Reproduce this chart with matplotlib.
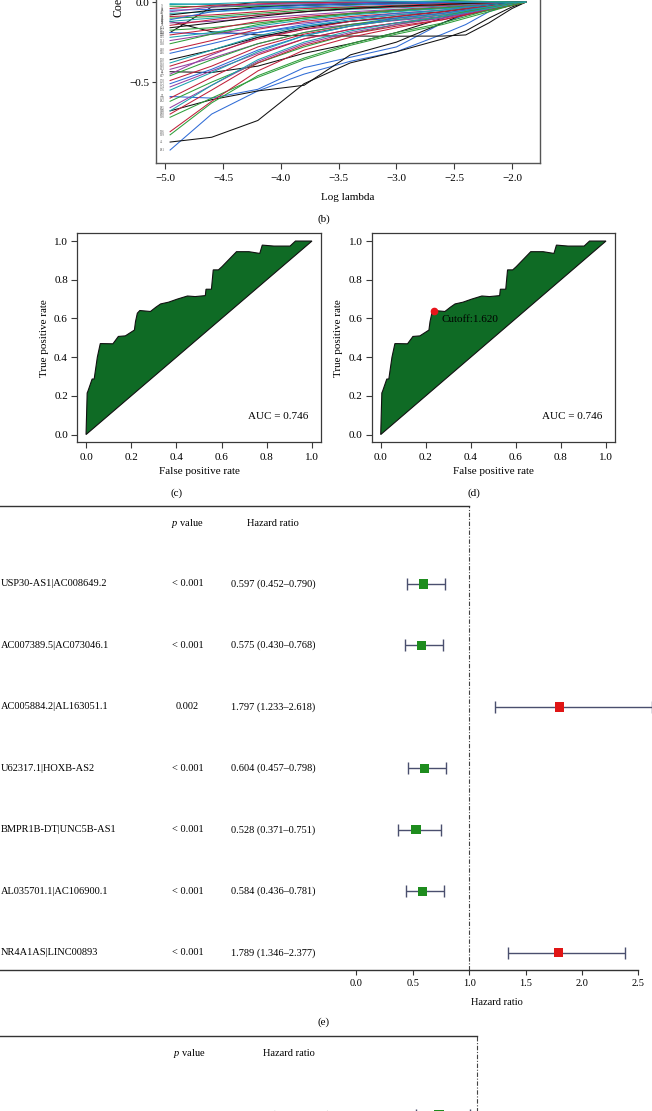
import numpy as np
import matplotlib
matplotlib.use('Agg')
import matplotlib.pyplot as plt

plt.rcParams['font.family'] = ['Liberation Serif', 'DejaVu Serif']
plt.rcParams['mathtext.fontset'] = 'custom'
plt.rcParams['mathtext.rm'] = 'Liberation Serif'
plt.rcParams['mathtext.it'] = 'Liberation Serif:italic'

# ---------------- data ----------------
log_lambda = [-4.96, -4.6, -4.2, -3.8, -3.4, -3.0, -2.6, -2.4, -2.2, -2.0, -1.88]
path_colors = ['b', 'k', 'b', 'k', 'k', 'k', 'k', 'm',
               'c', 'g', 'r', 'b', 'm', 'c', 'k', 'r', 'g', 'b', 'c', 'm', 'r', 'k', 'g',
               'b', 'r', 'c', 'm', 'g', 'r', 'b', 'k', 'c', 'r', 'm', 'g', 'r', 'b', 'm',
               'c', 'r', 'g', 'm', 'r', 'g', 'c', 'r', 'g', 'b', 'g', 'c']
path_coefs = [
    [-0.925, -0.70, -0.555, -0.45, -0.37, -0.31, -0.20, -0.14, -0.06, -0.01, 0.0],
    [-0.875, -0.845, -0.74, -0.51, -0.38, -0.31, -0.23, -0.18, -0.10, -0.03, 0.0],
    [-0.59, -0.60, -0.545, -0.41, -0.345, -0.28, -0.13, -0.08, -0.04, -0.01, 0.0],
    [-0.68, -0.61, -0.555, -0.52, -0.33, -0.25, -0.13, -0.07, -0.03, -0.005, 0.0],
    [-0.12, -0.185, -0.205, -0.21, -0.212, -0.213, -0.212, -0.205, -0.13, -0.04, 0.0],
    [-0.435, -0.44, -0.40, -0.32, -0.26, -0.19, -0.10, -0.06, -0.02, 0.0, 0.0],
    [-0.19, -0.03, 0.0, 0.0, 0.0, 0.0, 0.0, 0.0, 0.0, 0.0, 0.0],
    [-0.45, -0.33, -0.22, -0.17, -0.14, -0.115, -0.09, -0.07, -0.04, -0.01, 0.0],
    [-0.01, -0.015, -0.02, -0.015, -0.01, -0.005, -0.002, 0.0, 0.0, 0.0, 0.0],
    [-0.025, -0.03, -0.025, -0.02, -0.015, -0.01, -0.005, -0.002, 0.0, 0.0, 0.0],
    [-0.04, -0.02, -0.01, -0.005, 0.0, 0.0, 0.0, 0.0, 0.0, 0.0, 0.0],
    [-0.05, -0.045, -0.04, -0.03, -0.02, -0.012, -0.006, -0.003, 0.0, 0.0, 0.0],
    [-0.06, -0.03, -0.015, -0.01, -0.005, 0.0, 0.0, 0.0, 0.0, 0.0, 0.0],
    [-0.07, -0.06, -0.045, -0.035, -0.03, -0.025, -0.02, -0.015, -0.008, -0.002, 0.0],
    [-0.08, -0.05, -0.03, -0.02, -0.01, -0.005, 0.0, 0.0, 0.0, 0.0, 0.0],
    [-0.09, -0.08, -0.06, -0.04, -0.03, -0.02, -0.01, -0.005, -0.002, 0.0, 0.0],
    [-0.10, -0.09, -0.07, -0.05, -0.035, -0.025, -0.02, -0.012, -0.005, 0.0, 0.0],
    [-0.11, -0.06, -0.035, -0.02, -0.01, -0.005, 0.0, 0.0, 0.0, 0.0, 0.0],
    [-0.12, -0.10, -0.08, -0.06, -0.045, -0.035, -0.025, -0.018, -0.01, -0.003, 0.0],
    [-0.13, -0.12, -0.10, -0.08, -0.06, -0.045, -0.03, -0.02, -0.01, -0.003, 0.0],
    [-0.145, -0.11, -0.08, -0.06, -0.04, -0.03, -0.02, -0.01, -0.005, 0.0, 0.0],
    [-0.16, -0.13, -0.09, -0.06, -0.04, -0.025, -0.015, -0.008, -0.003, 0.0, 0.0],
    [-0.175, -0.16, -0.13, -0.10, -0.075, -0.055, -0.04, -0.03, -0.02, -0.008, 0.0],
    [-0.19, -0.20, -0.19, -0.15, -0.12, -0.10, -0.07, -0.05, -0.03, -0.01, 0.0],
    [-0.205, -0.17, -0.12, -0.09, -0.07, -0.05, -0.035, -0.025, -0.015, -0.005, 0.0],
    [-0.22, -0.19, -0.15, -0.11, -0.08, -0.06, -0.04, -0.03, -0.02, -0.008, 0.0],
    [-0.24, -0.20, -0.16, -0.13, -0.10, -0.08, -0.06, -0.045, -0.03, -0.01, 0.0],
    [-0.26, -0.20, -0.14, -0.10, -0.07, -0.05, -0.035, -0.025, -0.015, -0.005, 0.0],
    [-0.30, -0.24, -0.17, -0.12, -0.09, -0.07, -0.05, -0.035, -0.02, -0.008, 0.0],
    [-0.32, -0.26, -0.19, -0.14, -0.10, -0.07, -0.05, -0.03, -0.015, -0.005, 0.0],
    [-0.36, -0.30, -0.22, -0.16, -0.12, -0.09, -0.06, -0.04, -0.02, -0.005, 0.0],
    [-0.38, -0.30, -0.21, -0.15, -0.11, -0.08, -0.05, -0.035, -0.02, -0.005, 0.0],
    [-0.40, -0.32, -0.23, -0.17, -0.12, -0.09, -0.06, -0.04, -0.025, -0.01, 0.0],
    [-0.42, -0.35, -0.26, -0.19, -0.14, -0.11, -0.08, -0.06, -0.04, -0.015, 0.0],
    [-0.46, -0.36, -0.26, -0.19, -0.14, -0.10, -0.07, -0.05, -0.03, -0.01, 0.0],
    [-0.49, -0.40, -0.28, -0.20, -0.15, -0.11, -0.08, -0.06, -0.035, -0.01, 0.0],
    [-0.51, -0.42, -0.30, -0.21, -0.15, -0.10, -0.07, -0.05, -0.03, -0.01, 0.0],
    [-0.53, -0.43, -0.32, -0.23, -0.17, -0.13, -0.10, -0.075, -0.045, -0.015, 0.0],
    [-0.55, -0.44, -0.31, -0.21, -0.15, -0.11, -0.08, -0.055, -0.03, -0.01, 0.0],
    [-0.60, -0.47, -0.33, -0.23, -0.17, -0.13, -0.09, -0.065, -0.04, -0.015, 0.0],
    [-0.62, -0.50, -0.38, -0.28, -0.20, -0.14, -0.09, -0.06, -0.035, -0.01, 0.0],
    [-0.66, -0.52, -0.37, -0.26, -0.19, -0.14, -0.10, -0.07, -0.04, -0.015, 0.0],
    [-0.70, -0.55, -0.38, -0.27, -0.20, -0.15, -0.11, -0.08, -0.05, -0.02, 0.0],
    [-0.72, -0.60, -0.47, -0.36, -0.27, -0.20, -0.14, -0.10, -0.06, -0.02, 0.0],
    [-0.68, -0.52, -0.36, -0.25, -0.18, -0.13, -0.09, -0.065, -0.04, -0.015, 0.0],
    [-0.81, -0.62, -0.43, -0.30, -0.22, -0.16, -0.11, -0.08, -0.05, -0.02, 0.0],
    [-0.83, -0.63, -0.46, -0.35, -0.26, -0.19, -0.13, -0.09, -0.05, -0.02, 0.0],
    [0.10, 0.06, 0.04, 0.02, 0.01, 0.004, 0.0, 0.0, 0.0, 0.0, 0.0],
    [0.20, 0.12, 0.08, 0.05, 0.03, 0.02, 0.012, 0.008, 0.004, 0.001, 0.0],
    [-0.015, -0.01, 0.0, 0.005, 0.008, 0.006, 0.004, 0.002, 0.001, 0.0, 0.0],
]
path_labels = ['181', '42', '92', '35', '17', '64', '120', '77', '3', '9', '11', '26', '30',
               '47', '52', '58', '61', '70', '84', '88', '95', '101', '107', '112', '118',
               '125', '131', '138', '140', '146', '150', '155', '160', '163', '167', '170',
               '172', '174', '176', '178', '182', '185', '188', '190', '193', '196', '199',
               '5', '14', '21']
color_map = {'k': '#111111', 'r': '#C0203A', 'g': '#2E9E3A', 'b': '#2F6CD6',
             'c': '#1AA3AE', 'm': '#9440A2'}

roc_fpr = [0, 0.005, 0.008, 0.027, 0.036, 0.05, 0.063, 0.071, 0.119, 0.143, 0.174, 0.214,
           0.219, 0.227, 0.238, 0.285, 0.309, 0.33, 0.365, 0.404, 0.449, 0.483, 0.528, 0.531,
           0.555, 0.563, 0.586, 0.602, 0.666, 0.721, 0.769, 0.78, 0.832, 0.903, 0.927, 1.0]
roc_tpr = [0, 0.215, 0.223, 0.287, 0.287, 0.40, 0.47, 0.47, 0.469, 0.507, 0.51, 0.54,
           0.584, 0.627, 0.641, 0.636, 0.658, 0.675, 0.684, 0.70, 0.716, 0.713, 0.718, 0.751,
           0.751, 0.851, 0.851, 0.868, 0.945, 0.945, 0.936, 0.979, 0.974, 0.974, 1.0, 1.0]
auc_value = 0.746
cutoff_fpr, cutoff_tpr, cutoff_value = 0.238, 0.641, 1.620

genes_e = ['USP30-AS1|AC008649.2', 'AC007389.5|AC073046.1', 'AC005884.2|AL163051.1',
           'U62317.1|HOXB-AS2', 'BMPR1B-DT|UNC5B-AS1', 'AL035701.1|AC106900.1',
           'NR4A1AS|LINC00893']
pvals_e = ['< 0.001', '< 0.001', '0.002', '< 0.001', '< 0.001', '< 0.001', '< 0.001']
hr_e = [0.597, 0.575, 1.797, 0.604, 0.528, 0.584, 1.789]
lo_e = [0.452, 0.430, 1.233, 0.457, 0.371, 0.436, 1.346]
hi_e = [0.790, 0.768, 2.618, 0.798, 0.751, 0.781, 2.377]

genes_f = ['USP30-AS1|AC008649.2']
pvals_f = ['< 0.001']
hr_f = [0.668]
lo_f = [0.458]
hi_f = [0.938]

hr_ticks = [0.0, 0.5, 1.0, 1.5, 2.0, 2.5]

# ---------------- layout helpers ----------------
W, H = 652, 1111
fig = plt.figure(figsize=(W / 100, H / 100), dpi=100)


def box(l, t, r, b):
    return [l / W, 1 - b / H, (r - l) / W, (b - t) / H]


def T(x, y, s, **kw):
    kw.setdefault('ha', 'center')
    kw.setdefault('va', 'center')
    kw.setdefault('fontsize', 8)
    fig.text(x / W, 1 - y / H, s, **kw)


SPINE = '#3a3a3a'

# ---------------- (b) lasso paths ----------------
ylo, yhi = -1.006, 1.2
px_per = 160.0
top_px = 2.3 - yhi * px_per
axL = fig.add_axes(box(156, top_px, 540, 163))
for col, coefs, lab in zip(path_colors, path_coefs, path_labels):
    axL.plot(log_lambda, coefs, color=color_map[col], lw=0.75)
    if coefs[0] <= -0.02:
        axL.text(-5.03, coefs[0], lab, fontsize=2.3, color='#555555', ha='center', va='center')
axL.set_xlim(-5.082, -1.757)
axL.set_ylim(ylo, yhi)
axL.set_xticks([-5.0, -4.5, -4.0, -3.5, -3.0, -2.5, -2.0])
axL.set_xticklabels(['\u22125.0', '\u22124.5', '\u22124.0', '\u22123.5', '\u22123.0', '\u22122.5', '\u22122.0'])
axL.set_yticks([-0.5, 0.0])
axL.set_yticklabels(['\u22120.5', '0.0'])
axL.tick_params(axis='x', length=4, width=0.8, pad=4, labelsize=8, color=SPINE)
axL.tick_params(axis='y', length=3, width=0.8, pad=1.5, labelsize=8, color=SPINE)
for sp in axL.spines.values():
    sp.set_color('#555555')
    sp.set_linewidth(1.0)
T(118, 17, 'Coefficients', rotation=90, va='bottom', fontsize=8.5)
T(348, 198, 'Log lambda')
T(324, 219, '(b)')

# ---------------- (c), (d) ROC ----------------
GREEN = '#0F6B25'
for (l, r, lab, cx) in [(77, 321, '(c)', 177), (371.7, 615, '(d)', 474)]:
    ax = fig.add_axes(box(l, 233.3, r, 442.3))
    ax.fill(roc_fpr, roc_tpr, facecolor=GREEN, edgecolor='#111111', lw=0.8)
    ax.set_xlim(-0.04, 1.04)
    ax.set_ylim(-0.04, 1.04)
    ticks = [0.0, 0.2, 0.4, 0.6, 0.8, 1.0]
    ax.set_xticks(ticks)
    ax.set_yticks(ticks)
    ax.set_xticklabels(['%.1f' % t for t in ticks])
    ax.set_yticklabels(['%.1f' % t for t in ticks])
    ax.tick_params(axis='both', length=4, width=0.8, labelsize=8, color=SPINE)
    ax.tick_params(axis='x', pad=4)
    ax.tick_params(axis='y', pad=2.5)
    for sp in ax.spines.values():
        sp.set_color(SPINE)
        sp.set_linewidth(0.9)
    ax.set_xlabel('False positive rate', fontsize=8, labelpad=3)
    ax.set_ylabel('True positive rate', fontsize=8, labelpad=4)
    ax.text(0.985, 0.095, 'AUC = %.3f' % auc_value, ha='right', va='center', fontsize=8)
    if lab == '(d)':
        ax.plot([cutoff_fpr], [cutoff_tpr], 'o', color='#E8141B', ms=4.5, zorder=5)
        ax.text(0.27, 0.595, 'Cutoff:%.3f' % cutoff_value, ha='left', va='center', fontsize=8)
    T(cx, 493, lab)


# ---------------- forest plots ----------------
def forest(rect, xlim, ylim, genes, pvals, hr, lo, hi, col_x, header_y, line_end):
    ax = fig.add_axes(rect)
    ax.set_xlim(*xlim)
    ax.set_ylim(*ylim)
    ys = list(range(len(genes)))
    hr_a, lo_a, hi_a = np.array(hr), np.array(lo), np.array(hi)
    eb = ax.errorbar(hr_a, ys, xerr=[hr_a - lo_a, hi_a - hr_a], fmt='none',
                     ecolor='#4a4f6e', elinewidth=1.0, capsize=4.5, capthick=1.0)
    for art in eb.get_children():
        art.set_clip_on(False)
    cols = ['#E01515' if h > 1 else '#1E8C1E' for h in hr]
    ax.scatter(hr, ys, marker='s', s=44, c=cols, zorder=4, clip_on=False, linewidths=0)
    ax.axvline(1.0, color='#444444', lw=0.8, ls=(0, (4, 1.5, 1, 1.5)))
    frac = (line_end - xlim[0]) / (xlim[1] - xlim[0])
    ax.axhline(ylim[1], xmin=0, xmax=frac, color='#333333', lw=1.0, clip_on=False)
    gx, px_, hx = col_x
    for y, g, p, h, l_, u in zip(ys, genes, pvals, hr, lo, hi):
        ax.text(gx, y, g, ha='left', va='center', fontsize=7.5, clip_on=False)
        ax.text(px_, y, p, ha='center', va='center', fontsize=7.5, clip_on=False)
        ax.text(hx, y, '%.3f (%.3f\u2013%.3f)' % (h, l_, u), ha='center', va='center',
                fontsize=7.5, clip_on=False)
    ax.text(px_, header_y, '$p$ value', ha='center', va='center', fontsize=7.5)
    ax.text(hx, header_y, 'Hazard ratio', ha='center', va='center', fontsize=7.5)
    for s in ['top', 'left', 'right']:
        ax.spines[s].set_visible(False)
    ax.spines['bottom'].set_color('#333333')
    ax.spines['bottom'].set_linewidth(1.0)
    ax.set_yticks([])
    ax.set_xticks(hr_ticks)
    ax.set_xticklabels(['%.1f' % t for t in hr_ticks])
    ax.tick_params(axis='x', length=3.6, width=0.8, pad=3, labelsize=7.5, color='#333333')
    return ax


# (e)
sc = 112.88
x0 = 356.3
xlim_e = (-x0 / sc, 2.5)
row0, step = 584.0, 61.45
ylim_e = ((970 - row0) / step, (506 - row0) / step)
axE = forest(box(0, 506, 638.5, 970), xlim_e, ylim_e, genes_e, pvals_e, hr_e, lo_e, hi_e,
             ((1 - x0) / sc, (187.5 - x0) / sc, (273 - x0) / sc), (523 - row0) / step, 1.0)
axE.set_xlabel('Hazard ratio', fontsize=7.5)
axE.xaxis.set_label_coords((497 - 0) / 638.5, -0.06)
T(324, 1022, '(e)')

# (f) (cut off at bottom)
sc_f = 113.0
x0_f = 364.0
xlim_f = (-x0_f / sc_f, (652 - x0_f) / sc_f)
row0_f = 1115.0
ylim_f = ((1500 - row0_f) / step, (1036 - row0_f) / step)
axF = forest(box(0, 1036, 652, 1500), xlim_f, ylim_f, genes_f, pvals_f, hr_f, lo_f, hi_f,
             ((1 - x0_f) / sc_f, (189.5 - x0_f) / sc_f, (288.5 - x0_f) / sc_f),
             (1053 - row0_f) / step, 1.0)

fig.savefig('out.png', dpi=100)
